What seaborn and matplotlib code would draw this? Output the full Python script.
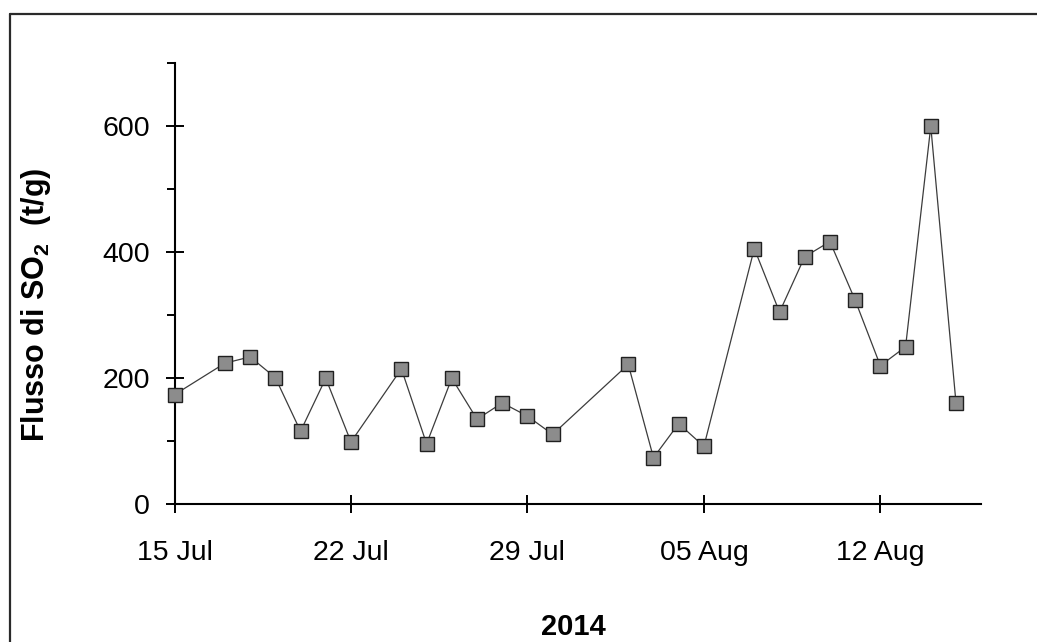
import matplotlib
matplotlib.use("Agg")
import matplotlib.pyplot as plt
import matplotlib.dates as mdates
from matplotlib.lines import Line2D
from matplotlib.ticker import MultipleLocator
import numpy as np
import pandas as pd
import seaborn as sns

# Daily SO2 flux measurements, summer 2014
dates = ["2014-07-15", "2014-07-17", "2014-07-18", "2014-07-19", "2014-07-20",
         "2014-07-21", "2014-07-22", "2014-07-24", "2014-07-25", "2014-07-26",
         "2014-07-27", "2014-07-28", "2014-07-29", "2014-07-30", "2014-08-02",
         "2014-08-03", "2014-08-04", "2014-08-05", "2014-08-07", "2014-08-08",
         "2014-08-09", "2014-08-10", "2014-08-11", "2014-08-12", "2014-08-13",
         "2014-08-14", "2014-08-15"]
flux = [174, 224, 234, 201, 116, 200, 99, 215, 96, 200,
        135, 161, 140, 111, 222, 74, 128, 92, 406, 305,
        393, 417, 324, 220, 250, 600, 161]

x_ticks = ["2014-07-15", "2014-07-22", "2014-07-29", "2014-08-05", "2014-08-12"]
y_ticks = [0, 200, 400, 600]

df = pd.DataFrame({"data": pd.to_datetime(dates), "flusso": flux})

sns.set_style("white")
plt.rcParams["font.family"] = ["Liberation Sans", "DejaVu Sans"]

fig = plt.figure(figsize=(10.37, 6.42), dpi=100)
ax = fig.add_axes([174.5 / 1037, 1 - 504.3 / 642, (981.2 - 174.5) / 1037, (504.3 - 63.3) / 642])

sns.lineplot(data=df, x="data", y="flusso", ax=ax, color="#3c3c3c", linewidth=0.9,
             marker="s", markersize=10.5, markerfacecolor="#8c8c8c",
             markeredgecolor="#202020", markeredgewidth=1.0, clip_on=False, zorder=3)

ax.set_xlim(pd.Timestamp("2014-07-15"), pd.Timestamp("2014-08-16"))
ax.set_ylim(0, 700)

ax.set_xticks(pd.to_datetime(x_ticks))
ax.xaxis.set_major_formatter(mdates.DateFormatter("%d %b"))
ax.set_yticks(y_ticks)
ax.yaxis.set_minor_locator(MultipleLocator(100))

for side in ("top", "right"):
    ax.spines[side].set_visible(False)
for side in ("left", "bottom"):
    ax.spines[side].set_color("black")
    ax.spines[side].set_linewidth(1.5)

ax.tick_params(axis="both", which="major", direction="inout", length=13.5, width=1.4,
               color="black", labelsize=20.5, labelcolor="black", left=True, bottom=True)
ax.tick_params(axis="y", which="major", pad=11)
ax.tick_params(axis="x", which="major", pad=19)
ax.tick_params(axis="y", which="minor", direction="out", length=5.5, width=1.4,
               color="black", left=True)

ax.set_xlabel("2014", fontsize=21, fontweight="bold", color="black")
ax.set_ylabel("Flusso di SO$_\\mathregular{2}$  (t/g)", fontsize=22, fontweight="bold",
              color="black")
ax.xaxis.set_label_coords(0.494, -0.2465)
ax.yaxis.set_label_coords(-0.1506, 0.452)
ax.grid(False)

# Frame around the figure (left and top edges visible)
fig.add_artist(Line2D([9.5 / 1037, 9.5 / 1037], [0, 1 - 14 / 642], transform=fig.transFigure,
                      color="#2a2a2a", linewidth=1.6))
fig.add_artist(Line2D([9.5 / 1037, 1], [1 - 14 / 642, 1 - 14 / 642], transform=fig.transFigure,
                      color="#2a2a2a", linewidth=1.6))

fig.savefig("out.png", dpi=100)
